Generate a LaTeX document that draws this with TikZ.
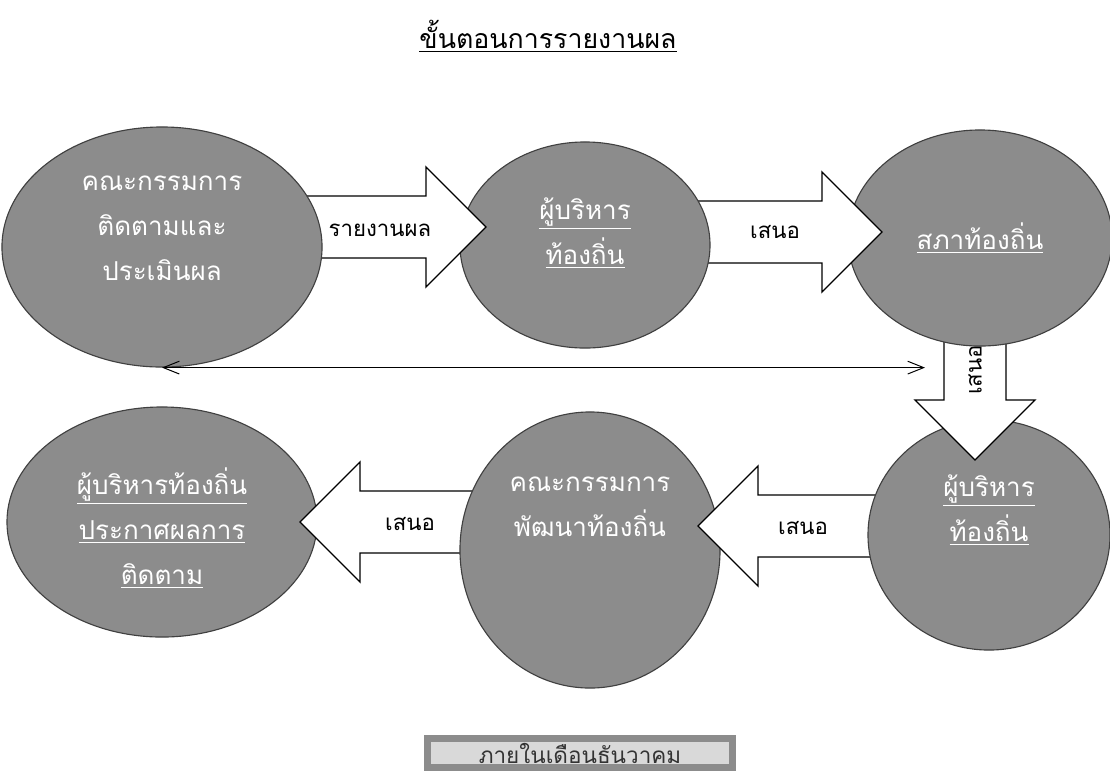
\documentclass[tikz,border=0pt]{standalone}
\usepackage{fontspec}
\newfontfamily\thai[Script=Thai]{Loma}
\usetikzlibrary{shapes.geometric,calc,arrows.meta}

\tikzset{
  stage/.style={ellipse,fill=black!45,draw=black!75,line width=0.8pt,inner sep=0pt},
  stagetext/.style={text=white,align=center,font=\thai\fontsize{18.5}{32}\selectfont},
  fat/.style={fill=white,draw=black,line width=0.9pt,line join=miter},
  fatlabel/.style={font=\thai\fontsize{15.8}{19}\selectfont},
}

% wide block arrow from #1 (tail) to #2 (tip)
\newcommand{\fatarrow}[2]{%
  \coordinate (fa-b) at ($(#2)!1.5cm!(#1)$);
  \draw[fat] ($(#1)!0.775cm!90:(#2)$) -- ($(fa-b)!0.775cm!90:(#2)$)
    -- ($(fa-b)!1.5cm!90:(#2)$) -- (#2) -- ($(fa-b)!1.5cm!-90:(#2)$)
    -- ($(fa-b)!0.775cm!-90:(#2)$) -- ($(#1)!0.775cm!-90:(#2)$) -- cycle;}

\begin{document}
\begin{tikzpicture}[x=0.025cm,y=-0.025cm]
\useasboundingbox (0,0) rectangle (1110,779);

\node[font=\thai\fontsize{19}{22}\selectfont] (title) at (548,36) {\underline{ขั้นตอนการรายงานผล}};

% stages, back to front
\node[stage,minimum width=7.75cm,minimum height=5.75cm] (e6) at (162,522) {};
\coordinate (s5) at (520,522); \coordinate (p5) at (300,522);
\fatarrow{s5}{p5}
\node[stage,minimum width=6.5cm,minimum height=6.9cm] (e5) at (590,550) {};
\coordinate (s4) at (930,526); \coordinate (p4) at (698,526);
\fatarrow{s4}{p4}
\node[stage,minimum width=6.05cm,minimum height=5.75cm] (e4) at (989,535) {};
\coordinate (s3) at (975,290); \coordinate (p3) at (975,460);
\fatarrow{s3}{p3}
\node[stage,minimum width=6.6cm,minimum height=5.4cm] (e3) at (980,238) {};
\coordinate (s2) at (650,232); \coordinate (p2) at (882,232);
\fatarrow{s2}{p2}
\node[stage,minimum width=6.25cm,minimum height=5.15cm] (e2) at (585,245) {};
\coordinate (s1) at (250,227); \coordinate (p1) at (486,227);
\fatarrow{s1}{p1}
\node[stage,minimum width=8cm,minimum height=6cm] (e1) at (162,247) {};

% arrow labels
\node[fatlabel] (l1) at (380,230) {รายงานผล};
\node[fatlabel] (l2) at (775,232) {เสนอ};
\node[fatlabel,rotate=90] (l3) at (975,370) {เสนอ};
\node[fatlabel] (l4) at (803,528) {เสนอ};
\node[fatlabel] (l5) at (410,524) {เสนอ};

% stage texts
\node[stagetext] (t1) at (162,228) {คณะกรรมการ\\ติดตามและ\\ประเมินผล};
\node[stagetext] (t2) at (585,233) {\underline{ผู้บริหาร}\\\underline{ท้องถิ่น}};
\node[stagetext] (t3) at (980,238) {\underline{สภาท้องถิ่น}};
\node[stagetext] (t4) at (989,510) {\underline{ผู้บริหาร}\\\underline{ท้องถิ่น}};
\node[stagetext] (t5) at (590,507) {คณะกรรมการ\\พัฒนาท้องถิ่น};
\node[stagetext] (t6) at (162,528) {\underline{ผู้บริหารท้องถิ่น}\\\underline{ประกาศผลการ}\\\underline{ติดตาม}};

\coordinate (lim) at (925,365);
\draw[{Straight Barb[length=4mm,width=3.2mm]}-{Straight Barb[length=4mm,width=3.2mm]},line width=0.7pt] (e1.south) -- (e1.south -| lim);

\node[draw=black!45,line width=5pt,fill=black!15,minimum width=7.6cm,minimum height=0.7cm,
  font=\thai\fontsize{16}{19}\selectfont,text=black!80] (when) at (580,753) {ภายในเดือนธันวาคม};
\end{tikzpicture}
\end{document}
